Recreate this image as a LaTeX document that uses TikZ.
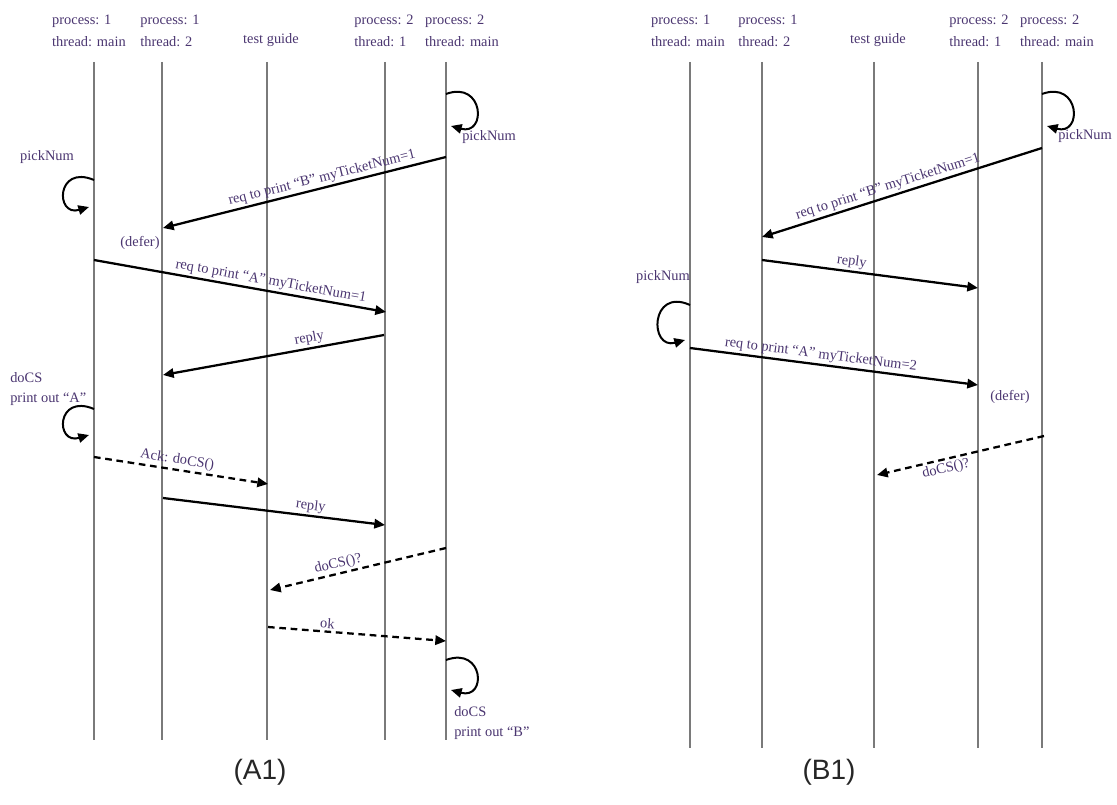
\documentclass[tikz,border=0pt]{standalone}
\usepackage{fontspec}
\setmainfont{Liberation Serif}
\newfontfamily\panelfont{Liberation Sans}
\usetikzlibrary{arrows.meta}
\definecolor{seqtext}{HTML}{4A3570}
\definecolor{seqlife}{HTML}{7A7A7A}

\begin{document}
\begin{tikzpicture}[x=0.75pt, y=-0.75pt,
  head/.style={align=left, text=seqtext, font=\fontsize{10.8}{16.5}\selectfont, inner sep=0pt},
  life/.style={draw=seqlife, line width=0.9pt},
  msg/.style={-{Triangle[length=8pt,width=7pt]}, line width=1.7pt},
  ask/.style={msg, dash pattern=on 5pt off 3.5pt},
  self/.style={msg, line width=1.5pt},
  lbl/.style={text=seqtext, font=\fontsize{10.8}{15}\selectfont, inner sep=1.5pt},
  panel/.style={font=\panelfont\fontsize{21}{24}\selectfont, text=black!85}
]
\useasboundingbox (0,0) rectangle (1117,805);

% ---- (A1) ----
\node[head] (ha1) at (89,31) {process: 1\\thread: main};
\node[head] (ha2) at (170,31) {process: 1\\thread: 2};
\node[head] (ha3) at (271,40) {test guide};
\node[head] (ha4) at (384,31) {process: 2\\thread: 1};
\node[head] (ha5) at (462,31) {process: 2\\thread: main};

\coordinate (a1t) at (94,62);  \coordinate (a1b) at (94,740);
\coordinate (a2t) at (162,62); \coordinate (a2b) at (162,740);
\coordinate (a3t) at (267,62); \coordinate (a3b) at (267,740);
\coordinate (a4t) at (385,62); \coordinate (a4b) at (385,740);
\coordinate (a5t) at (446,62); \coordinate (a5b) at (446,740);

\draw[life] (a1t) -- (a1b);
\draw[life] (a2t) -- (a2b);
\draw[life] (a3t) -- (a3b);
\draw[life] (a4t) -- (a4b);
\draw[life] (a5t) -- (a5b);

% self loops
\coordinate (pa1s) at (446,94);  \coordinate (pa1e) at (451,126);
\draw[self] (pa1s) .. controls +(38,-14) and +(36,10) .. (pa1e);
\node[lbl, anchor=west] (pka1) at (460,137) {pickNum};

\node[lbl] (pka2) at (47,157) {pickNum};
\coordinate (pa2s) at (94,180);  \coordinate (pa2e) at (89,207);
\draw[self] (pa2s) .. controls +(-38,-16) and +(-34,10) .. (pa2e);

\node[lbl, align=left, anchor=west] (csa) at (8,389) {doCS\\print out “A”};
\coordinate (pa3s) at (94,409);  \coordinate (pa3e) at (89,435);
\draw[self] (pa3s) .. controls +(-38,-16) and +(-34,10) .. (pa3e);

\coordinate (pa4s) at (446,660); \coordinate (pa4e) at (451,690);
\draw[self] (pa4s) .. controls +(38,-14) and +(36,10) .. (pa4e);
\node[lbl, align=left, anchor=west] (csb) at (452,723) {doCS\\print out “B”};

% messages
\coordinate (ma1s) at (446,157); \coordinate (ma1e) at (163,228);
\draw[msg] (ma1s) -- node[lbl, above, sloped, pos=0.43] (ta1) {req to print “B” myTicketNum=1} (ma1e);
\node[lbl] (dfa) at (140,243) {(defer)};

\coordinate (ma2s) at (94,260); \coordinate (ma2e) at (386,312);
\draw[msg] (ma2s) -- node[lbl, above, sloped, pos=0.6] (ta2) {req to print “A” myTicketNum=1} (ma2e);

\coordinate (ma3s) at (384,335); \coordinate (ma3e) at (163,375);
\draw[msg] (ma3s) -- node[lbl, above, sloped, pos=0.33] (ta3) {reply} (ma3e);

\coordinate (ma4s) at (94,457); \coordinate (ma4e) at (268,484);
\draw[ask] (ma4s) -- node[lbl, above, sloped, pos=0.47] (ta4) {Ack: doCS()} (ma4e);

\coordinate (ma5s) at (163,498); \coordinate (ma5e) at (385,525);
\draw[msg] (ma5s) -- node[lbl, above, sloped, pos=0.66] (ta5) {reply} (ma5e);

\coordinate (ma6s) at (446,548); \coordinate (ma6e) at (270,590);
\draw[ask] (ma6s) -- node[lbl, above, sloped, pos=0.6] (ta6) {doCS()?} (ma6e);

\coordinate (ma7s) at (268,627); \coordinate (ma7e) at (446,641);
\draw[ask] (ma7s) -- node[lbl, above, sloped, pos=0.33] (ta7) {ok} (ma7e);

\node[panel] (capa) at (260,772) {(A1)};

% ---- (B1) ----
\node[head] (hb1) at (688,31) {process: 1\\thread: main};
\node[head] (hb2) at (768,31) {process: 1\\thread: 2};
\node[head] (hb3) at (878,40) {test guide};
\node[head] (hb4) at (979,31) {process: 2\\thread: 1};
\node[head] (hb5) at (1057,31) {process: 2\\thread: main};

\coordinate (b1t) at (690,62);  \coordinate (b1b) at (690,748);
\coordinate (b2t) at (762,62);  \coordinate (b2b) at (762,748);
\coordinate (b3t) at (874,62);  \coordinate (b3b) at (874,748);
\coordinate (b4t) at (978,62);  \coordinate (b4b) at (978,748);
\coordinate (b5t) at (1042,62); \coordinate (b5b) at (1042,748);

\draw[life] (b1t) -- (b1b);
\draw[life] (b2t) -- (b2b);
\draw[life] (b3t) -- (b3b);
\draw[life] (b4t) -- (b4b);
\draw[life] (b5t) -- (b5b);

\coordinate (pb1s) at (1042,94); \coordinate (pb1e) at (1047,126);
\draw[self] (pb1s) .. controls +(38,-14) and +(36,10) .. (pb1e);
\node[lbl, anchor=west] (pkb1) at (1056,136) {pickNum};

\node[lbl] (pkb2) at (663,277) {pickNum};
\coordinate (pb2s) at (690,305); \coordinate (pb2e) at (685,340);
\draw[self] (pb2s) .. controls +(-40,-18) and +(-36,10) .. (pb2e);

\coordinate (mb1s) at (1042,148); \coordinate (mb1e) at (762,237);
\draw[msg] (mb1s) -- node[lbl, above, sloped, pos=0.54] (tb1) {req to print “B” myTicketNum=1} (mb1e);

\coordinate (mb2s) at (762,260); \coordinate (mb2e) at (978,288);
\draw[msg] (mb2s) -- node[lbl, above, sloped, pos=0.41] (tb2) {reply} (mb2e);

\coordinate (mb3s) at (690,348); \coordinate (mb3e) at (978,385);
\draw[msg] (mb3s) -- node[lbl, above, sloped, pos=0.45] (tb3) {req to print “A” myTicketNum=2} (mb3e);
\node[lbl] (dfb) at (1010,397) {(defer)};

\coordinate (mb4s) at (1044,436); \coordinate (mb4e) at (877,475);
\draw[ask] (mb4s) -- node[lbl, below, sloped, pos=0.6] (tb4) {doCS()?} (mb4e);

\node[panel] (capb) at (829,772) {(B1)};
\end{tikzpicture}
\end{document}
